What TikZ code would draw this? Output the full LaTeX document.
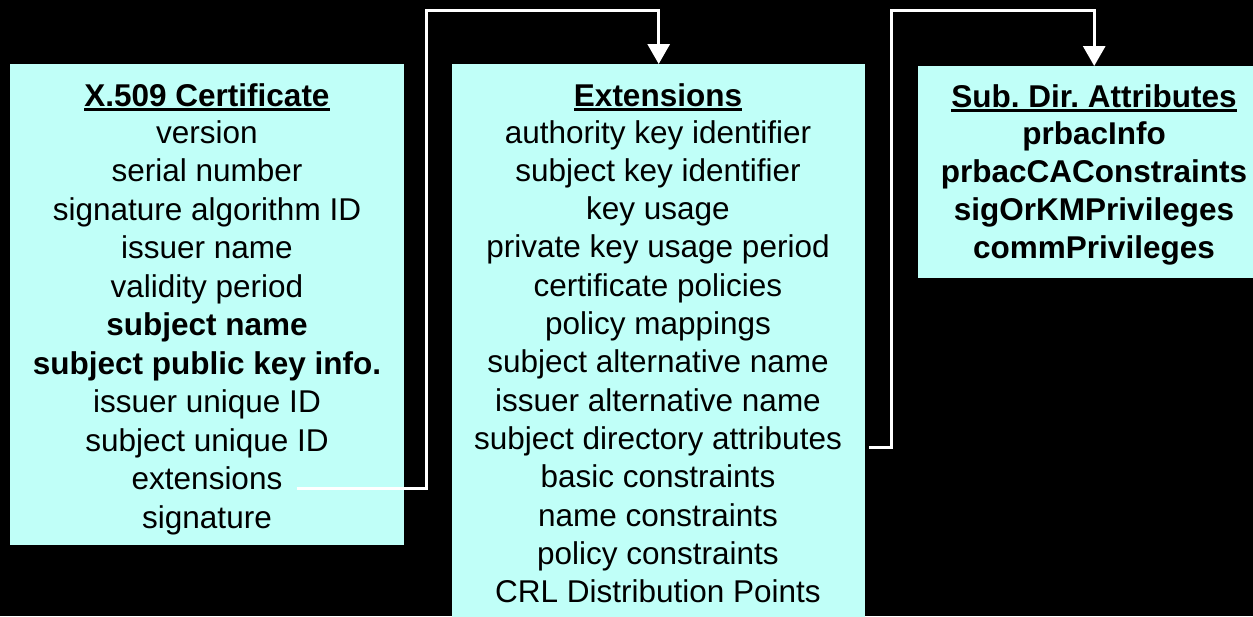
\documentclass[tikz,border=0pt]{standalone}
\usepackage{fontspec}
\setmainfont{Liberation Sans}
\usetikzlibrary{arrows.meta,calc}
\definecolor{boxcyan}{RGB}{192,255,248}
\frenchspacing
\begin{document}
\begin{tikzpicture}[x=1pt,y=-1pt,
  panel/.style={fill=boxcyan,draw=none,inner sep=0pt,anchor=north west},
  txt/.style={anchor=base,inner sep=0pt,font=\fontsize{31.5}{38}\selectfont},
  hdr/.style={txt,font=\fontsize{31.5}{38}\selectfont\bfseries},
  link/.style={draw=white,line width=3pt},
  linkarrow/.style={link,-{Triangle[width=22pt,length=20pt,fill=white]}}]
% canvas
\fill[black] (0,0) rectangle (1253,616);
\useasboundingbox (0,0) rectangle (1253,616);
\begin{scope}
\clip (0,0) rectangle (1253,616);
% panels
\node[panel,minimum width=394,minimum height=481] (cert) at (10,64) {};
\node[panel,minimum width=413,minimum height=560] (ext) at (452,64) {};
\node[panel,minimum width=352,minimum height=212] (sda) at (918,66) {};

% X.509 certificate fields
\node[hdr] (certT) at (207,106) {X.509 Certificate};
\node[txt] (c1) at (207,143) {version};
\node[txt] (c2) at (207,181.5) {serial number};
\node[txt] (c3) at (207,220) {signature algorithm ID};
\node[txt] (c4) at (207,258.5) {issuer name};
\node[txt] (c5) at (207,297) {validity period};
\node[hdr] (c6) at (207,335.5) {subject name};
\node[hdr] (c7) at (207,374) {subject public key info.};
\node[txt] (c8) at (207,412.5) {issuer unique ID};
\node[txt] (c9) at (207,451) {subject unique ID};
\node[txt] (c10) at (207,489.5) {extensions};
\node[txt] (c11) at (207,528) {signature};

% extension fields
\node[hdr] (extT) at (658,106) {Extensions};
\node[txt] (e1) at (658,143) {authority key identifier};
\node[txt] (e2) at (658,181.3) {subject key identifier};
\node[txt] (e3) at (658,219.6) {key usage};
\node[txt] (e4) at (658,257.9) {private key usage period};
\node[txt] (e5) at (658,296.2) {certificate policies};
\node[txt] (e6) at (658,334.5) {policy mappings};
\node[txt] (e7) at (658,372.8) {subject alternative name};
\node[txt] (e8) at (658,411.1) {issuer alternative name};
\node[txt] (e9) at (658,449.4) {subject directory attributes};
\node[txt] (e10) at (658,487.7) {basic constraints};
\node[txt] (e11) at (658,526) {name constraints};
\node[txt] (e12) at (658,564.3) {policy constraints};
\node[txt] (e13) at (658,602.6) {CRL Distribution Points};

% subject directory attributes
\node[hdr] (sdaT) at (1094,107) {Sub. Dir. Attributes};
\node[hdr] (s1) at (1094,144) {prbacInfo};
\node[hdr] (s2) at (1094,182) {prbacCAConstraints};
\node[hdr] (s3) at (1094,220) {sigOrKMPrivileges};
\node[hdr] (s4) at (1094,258) {commPrivileges};

% header underlines
\foreach \h in {certT,extT,sdaT}
  \fill[black] ([yshift=-2.2]\h.base west) rectangle ([yshift=-4.6]\h.base east);
\end{scope}

% connectors
\coordinate (k1) at ($(c10.base east)+(14,-1)$);
\draw[linkarrow] (k1) -- (k1 -| 426,0) -- (426,10) -- (ext.north |- 0,10) -- (ext.north);
\coordinate (k2) at ($(e9.base east)+(27,-2)$);
\draw[linkarrow] (k2) -- (k2 -| 891,0) -- (891,10) -- (sda.north |- 0,10) -- (sda.north);
\end{tikzpicture}
\end{document}
